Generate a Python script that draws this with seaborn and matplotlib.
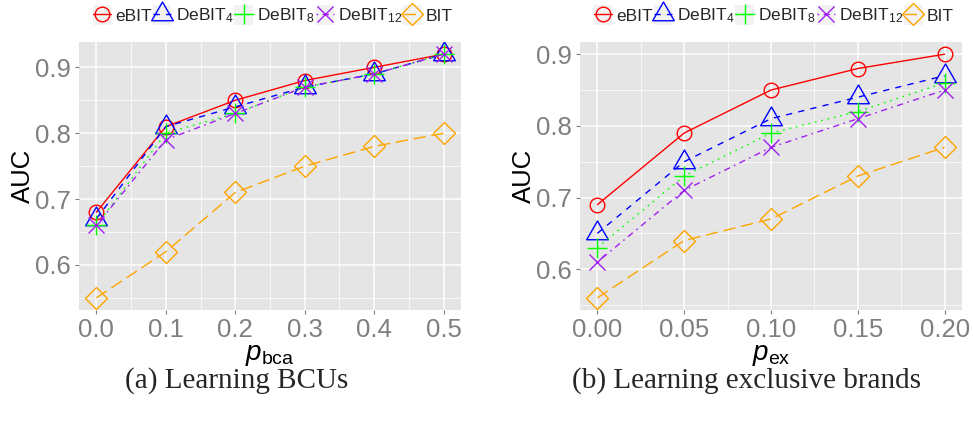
import matplotlib
matplotlib.use("Agg")
import matplotlib.pyplot as plt
from matplotlib.path import Path
from matplotlib.patches import Rectangle
from matplotlib.legend_handler import HandlerLine2D
from matplotlib.ticker import MultipleLocator, FixedLocator, FormatStrFormatter
import seaborn as sns

# ---- data -------------------------------------------------------------
series_names = ["eBIT", "DeBIT$_4$", "DeBIT$_8$", "DeBIT$_{12}$", "BIT"]

p_bca = [0.0, 0.1, 0.2, 0.3, 0.4, 0.5]
bca_ebit = [0.68, 0.81, 0.85, 0.88, 0.90, 0.92]
bca_debit4 = [0.67, 0.81, 0.84, 0.87, 0.89, 0.92]
bca_debit8 = [0.66, 0.80, 0.83, 0.87, 0.89, 0.92]
bca_debit12 = [0.66, 0.79, 0.83, 0.87, 0.89, 0.92]
bca_bit = [0.55, 0.62, 0.71, 0.75, 0.78, 0.80]

p_ex = [0.00, 0.05, 0.10, 0.15, 0.20]
ex_ebit = [0.69, 0.79, 0.85, 0.88, 0.90]
ex_debit4 = [0.65, 0.75, 0.81, 0.84, 0.87]
ex_debit8 = [0.63, 0.73, 0.79, 0.82, 0.86]
ex_debit12 = [0.61, 0.71, 0.77, 0.81, 0.85]
ex_bit = [0.56, 0.64, 0.67, 0.73, 0.77]

y_ticks = [0.6, 0.7, 0.8, 0.9]

# ---- style ------------------------------------------------------------
sns.set_style("darkgrid", {"axes.facecolor": "#E5E5E5", "grid.color": "white"})
plt.rcParams["font.family"] = ["Liberation Sans", "DejaVu Sans"]
plt.rcParams["mathtext.fontset"] = "custom"
plt.rcParams["mathtext.rm"] = "Liberation Sans"
plt.rcParams["mathtext.it"] = "Liberation Sans:italic"
plt.rcParams["mathtext.bf"] = "Liberation Sans:bold"

# open equilateral triangle centred on its centroid
triangle = Path([(-1, -0.577), (1, -0.577), (0, 1.155), (-1, -0.577)],
                [Path.MOVETO, Path.LINETO, Path.LINETO, Path.CLOSEPOLY])

colors = ["#FF0000", "#0000FF", "#00FF00", "#A020F0", "#FFA500"]
markers = ["o", triangle, "+", "x", "D"]
msizes = [10.5, 18.0, 14.5, 11.0, 11.0]
linestyles = ["-", (0, (4.5, 4.5)), (0, (1.2, 3.5)), (0, (1.2, 3.2, 4.5, 3.2)), (0, (9, 4))]

grey_txt = "#7F7F7F"


class KeyHandler(HandlerLine2D):
    """Legend key drawn on a light grey square, as in ggplot keys."""

    def create_artists(self, legend, orig_handle, xdescent, ydescent,
                       width, height, fontsize, trans):
        arts = super().create_artists(legend, orig_handle, xdescent, ydescent,
                                      width, height, fontsize, trans)
        bg = Rectangle((-xdescent, -ydescent - 0.15 * height), width, height * 1.3,
                       facecolor="#F2F2F2", edgecolor="none", transform=trans)
        return [bg] + arts


fig = plt.figure(figsize=(9.73, 4.23), dpi=100)
ax1 = fig.add_axes([0.0812, 0.2671, 0.3926, 0.6336])
ax2 = fig.add_axes([0.5961, 0.2671, 0.3926, 0.6336])

panels = [
    (ax1, p_bca, [bca_ebit, bca_debit4, bca_debit8, bca_debit12, bca_bit],
     r"$p_{\mathrm{bca}}$", "%.1f", 0.05, 273 / 973),
    (ax2, p_ex, [ex_ebit, ex_debit4, ex_debit8, ex_debit12, ex_bit],
     r"$p_{\mathrm{ex}}$", "%.2f", 0.025, 774 / 973),
]

for ax, xs, ys_list, xlabel, fmt, minor_step, leg_x in panels:
    for ys, c, m, ms, ls in zip(ys_list, colors, markers, msizes, linestyles):
        sns.lineplot(x=xs, y=ys, ax=ax, color=c, marker=m, markersize=ms,
                     markerfacecolor="none", markeredgecolor=c,
                     markeredgewidth=1.0, linestyle=ls, linewidth=1.0,
                     errorbar=None, legend=False)

    ax.margins(x=0.05, y=0.05)
    ax.xaxis.set_major_locator(FixedLocator(xs))
    ax.xaxis.set_major_formatter(FormatStrFormatter(fmt))
    ax.xaxis.set_minor_locator(MultipleLocator(minor_step))
    ax.yaxis.set_major_locator(FixedLocator(y_ticks))
    ax.yaxis.set_major_formatter(FormatStrFormatter("%.1f"))
    ax.yaxis.set_minor_locator(MultipleLocator(0.05))

    ax.grid(which="major", color="white", linewidth=1.1)
    ax.grid(which="minor", color="white", linewidth=0.5)
    ax.set_axisbelow(True)
    for sp in ax.spines.values():
        sp.set_visible(False)

    ax.tick_params(which="major", direction="out", length=3, width=0.8,
                   color=grey_txt, labelcolor=grey_txt, labelsize=18.5, pad=3,
                   bottom=True, left=True)
    ax.tick_params(which="minor", length=0)

    ax.set_xlabel(xlabel, fontsize=20, color="black", labelpad=0)
    ax.set_ylabel("AUC", fontsize=18.5, color="black")
    ax.yaxis.set_label_coords(-0.115, 0.5)

    handles = list(ax.get_lines())
    fig.legend(handles, series_names, loc="center",
               bbox_to_anchor=(leg_x, 1 - 16 / 423),
               bbox_transform=fig.transFigure, ncol=5, frameon=False,
               fontsize=12.5, handlelength=1.05, handleheight=1.0,
               handletextpad=0.25, columnspacing=0.05, borderpad=0,
               handler_map={l: KeyHandler() for l in handles})

fig.text(237 / 973, 1 - 381 / 423, "(a) Learning BCUs", ha="center", va="center",
         fontsize=21, family=["Liberation Serif", "DejaVu Serif"])
fig.text(746 / 973, 1 - 381 / 423, "(b) Learning exclusive brands", ha="center",
         va="center", fontsize=21, family=["Liberation Serif", "DejaVu Serif"])

fig.savefig("out.png", dpi=100, facecolor="white")
